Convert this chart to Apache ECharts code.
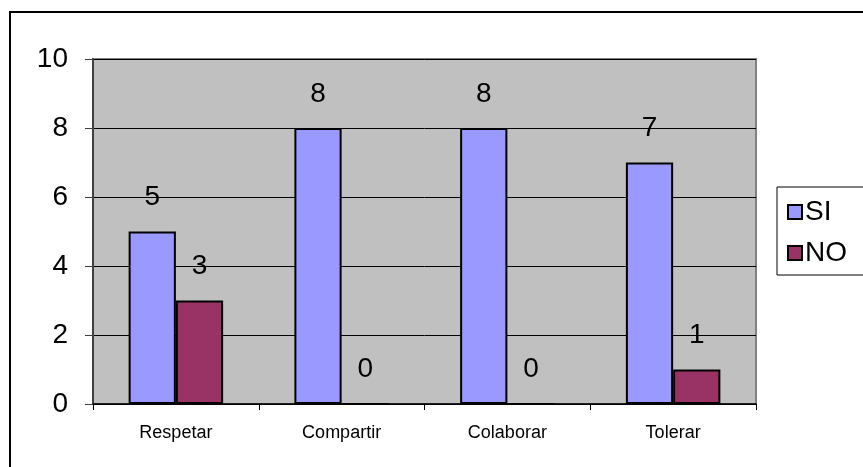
<!DOCTYPE html>
<html>
<head>
<meta charset="utf-8">
<script src="https://cdn.jsdelivr.net/npm/echarts@6/dist/echarts.min.js"></script>
<style>
  html, body { margin: 0; padding: 0; background: #fff; }
  #chart { width: 863px; height: 467px; }
</style>
</head>
<body>
<div id="chart"></div>
<script>
// datos
var categories = ['Respetar', 'Compartir', 'Colaborar', 'Tolerar'];
var siValues = [5, 8, 8, 7];
var noValues = [3, 0, 0, 1];
var yTicks = [0, 2, 4, 6, 8, 10];

var font = '"Liberation Sans", Arial, sans-serif';

var chart = echarts.init(document.getElementById('chart'));

var labelStyle = {
  show: true,
  position: 'top',
  distance: 20,
  color: '#000',
  fontSize: 28,
  fontFamily: font
};

chart.setOption({
  animation: false,
  backgroundColor: '#fff',
  textStyle: { fontFamily: font },
  graphic: [
    {
      type: 'rect',
      shape: { x: 10, y: 12, width: 1000, height: 1000 },
      style: { fill: 'none', stroke: '#000', lineWidth: 2 },
      silent: true
    }
  ],
  grid: {
    left: 93,
    top: 59,
    right: 107,
    bottom: 63,
    show: true,
    backgroundColor: '#C0C0C0',
    borderColor: '#808080',
    borderWidth: 2
  },
  legend: {
    orient: 'vertical',
    left: 777,
    top: 187,
    padding: [11, 40, 8, 10],
    itemGap: 13,
    itemWidth: 14,
    itemHeight: 14,
    icon: 'rect',
    backgroundColor: '#fff',
    borderColor: '#000',
    borderWidth: 1,
    borderRadius: 0,
    textStyle: { fontSize: 28, color: '#000', fontFamily: font, padding: [0, 0, 0, -2] },
    data: ['SI', 'NO']
  },
  xAxis: {
    type: 'category',
    data: categories,
    axisLine: { lineStyle: { color: '#000', width: 1.5 } },
    axisTick: { show: true, length: 6, lineStyle: { color: '#000' } },
    axisLabel: { fontSize: 18, color: '#000', margin: 20, fontFamily: font },
    splitLine: { show: false }
  },
  yAxis: {
    type: 'value',
    min: yTicks[0],
    max: yTicks[yTicks.length - 1],
    interval: 2,
    axisLine: { show: true, lineStyle: { color: '#404040', width: 2 } },
    axisTick: { show: true, length: 8, lineStyle: { color: '#404040' } },
    axisLabel: { fontSize: 28, color: '#000', margin: 25, fontFamily: font },
    splitLine: { show: true, lineStyle: { color: '#000', width: 1 } }
  },
  series: [
    {
      name: 'SI',
      type: 'bar',
      data: siValues,
      barGap: 0,
      barCategoryGap: '43%',
      itemStyle: { color: '#9999FF', borderColor: '#000', borderWidth: 2 },
      label: labelStyle
    },
    {
      name: 'NO',
      type: 'bar',
      data: noValues,
      itemStyle: { color: '#993366', borderColor: '#000', borderWidth: 2 },
      label: labelStyle
    }
  ]
});
</script>
</body>
</html>
